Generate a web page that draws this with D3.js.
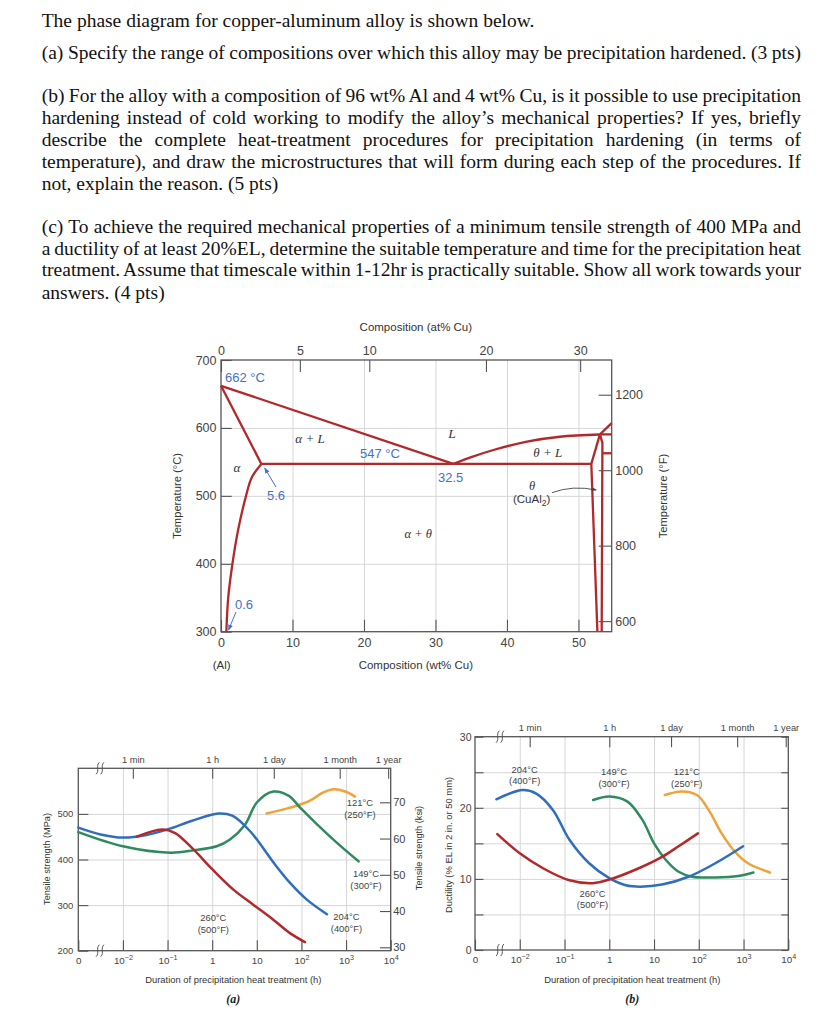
<!DOCTYPE html>
<html><head><meta charset="utf-8">
<script src="https://cdn.jsdelivr.net/npm/d3@7"></script>
<style>body{margin:0;background:#fff}svg{display:block}</style>
</head><body><svg id="c" width="834" height="1024"></svg>
<script>
// ---------------- DATA ----------------
const questionLines = [
  "The phase diagram for copper-aluminum alloy is shown below.",
  "(a) Specify the range of compositions over which this alloy may be precipitation hardened. (3 pts)",
  "(b) For the alloy with a composition of 96 wt% Al and 4 wt% Cu, is it possible to use precipitation",
  "hardening instead of cold working to modify the alloy\u2019s mechanical properties? If yes, briefly",
  "describe the complete heat-treatment procedures for precipitation hardening (in terms of",
  "temperature), and draw the microstructures that will form during each step of the procedures. If",
  "not, explain the reason. (5 pts)",
  "(c) To achieve the required mechanical properties of a minimum tensile strength of 400 MPa and",
  "a ductility of at least 20%EL, determine the suitable temperature and time for the precipitation heat",
  "treatment. Assume that timescale within 1-12hr is practically suitable. Show all work towards your",
  "answers. (4 pts)"
];

// Phase diagram (wt% Cu, °C)
const wtTicks = [0, 10, 20, 30, 40, 50];
const atTicks = [0, 5, 10, 20, 30];
const tempTicks = [300, 400, 500, 600, 700];
const fahrTicks = [600, 800, 1000, 1200];
const liquidusLeft = [[0, 662], [32.5, 547]];
const solidus = [[0, 662], [5.65, 547]];
const solvus = [[5.65, 547], [4.3, 527], [3.5, 500], [2.4, 450], [1.6, 400], [1.0, 349], [0.75, 300]];
const eutecticLine = [[5.65, 547], [51.8, 547]];
const liquidusRight = [[32.5, 547], [35, 557], [38.1, 567.5], [42.8, 579.8], [47.4, 587], [53, 590.3]];
const peritecticLine = [[53, 590.5], [54.65, 590.5]];
const liquidusTheta = [[53, 590.5], [54.65, 607]];
const thetaLeft = [[53, 590.5], [51.8, 547], [52.65, 300]];
const thetaRight = [[53, 590.5], [53.35, 578], [53.25, 300]];
const thetaRightBoundary = [[53.3, 562.7], [54.65, 562.7]];

// Precipitation hardening (hours, value)
const timeTickHours = [0.001, 0.01, 0.1, 1, 10, 100, 1000, 10000];
const timeTickLabels = [["0", ""], ["10", "\u22122"], ["10", "\u22121"], ["1", ""], ["10", ""], ["10", "2"], ["10", "3"], ["10", "4"]];
const periodHours = [0.01667, 1, 24, 720, 8760];
const periodLabels = ["1 min", "1 h", "1 day", "1 month", "1 year"];
const mpaTicks = [200, 300, 400, 500];
const ksiTicks = [30, 40, 50, 60, 70];
const ductTicks = [0, 5, 10, 15, 20, 25, 30];

const tensile260 = [[0.0204, 450], [0.0741, 466], [0.148, 458], [0.38, 422], [0.977, 380], [2.99, 334], [8.3, 301], [23.4, 268], [56.2, 238], [120, 219]];
const tensile204 = [[0.001, 470], [0.00316, 455], [0.01, 448], [0.0316, 453], [0.1, 466], [0.355, 485], [1.38, 501], [2.82, 496], [7.08, 462], [25.1, 390], [56.2, 348], [132, 312], [372, 280]];
const tensile149 = [[0.001, 460], [0.01, 429], [0.115, 415], [0.38, 420], [1.26, 429], [2.51, 444], [5.5, 477], [10, 525], [23.4, 549], [51.3, 540], [93.3, 514], [224, 477], [617, 437], [1905, 396]];
const tensile121 = [[16.6, 501], [39.8, 510], [79.4, 518], [155, 529], [309, 547], [525, 554], [955, 549], [1585, 538]];

const duct260 = [[0.00316, 16.3], [0.01, 13.6], [0.0331, 11.5], [0.129, 9.8], [0.427, 9.4], [1, 9.9], [4.57, 11.5], [15.1, 13.1], [35.5, 14.6], [95.5, 16.4]];
const duct204 = [[0.003, 21.2], [0.0117, 22.5], [0.0234, 22.0], [0.055, 19.7], [0.129, 15.5], [0.355, 12.2], [1, 10.1], [2.34, 9.1], [5.0, 8.9], [15.1, 9.2], [58.9, 10.3], [234, 12.2], [977, 14.6]];
const duct149 = [[0.437, 21.1], [1, 21.6], [2.51, 20.9], [5.5, 18.3], [10, 15.0], [18.2, 12.7], [35.5, 11.0], [70.8, 10.3], [234, 10.2], [759, 10.4], [1660, 10.9]];
const duct121 = [[17.4, 21.8], [41.7, 22.3], [91.2, 21.8], [166, 19.7], [324, 16.4], [646, 13.8], [1259, 12.2], [3890, 10.9]];

// ---------------- STYLE / LAYOUT ----------------
const svg = d3.select("#c");
const SANS = "'Liberation Sans', Arial, sans-serif";
const SERIF = "'Liberation Serif', 'Times New Roman', serif";
const FRAME = "#555";
const GRID = "#d6d6d6";
const RED = "#b2292b", BLUE = "#2f6fba", GREEN = "#2f8a5f", ORANGE = "#f0a33a";
const NOTE = "#4472c4";

// Question text (justified lines get extra word spacing)
const qBase = [26.7, 58.5, 102, 123.5, 146, 168.3, 189.5, 232.7, 254.5, 276.3, 299.3];
const qJustify = [false, true, true, true, true, true, false, true, true, true, false];
const qRight = 801;
svg.append("g").selectAll("text").data(questionLines).join("text")
  .attr("x", 41.7).attr("y", (d, i) => qBase[i])
  .attr("font-family", SERIF).attr("font-size", 19.5).attr("fill", "#111")
  .text(d => d)
  .each(function (d, i) {
    if (!qJustify[i]) return;
    const w = this.getComputedTextLength();
    const n = (d.match(/ /g) || []).length;
    if (n > 0) d3.select(this).attr("word-spacing", (qRight - 41.7 - w) / n);
  });

function styleAxis(g, fs, col) {
  g.select(".domain").remove();
  g.selectAll(".tick line").attr("stroke", FRAME).attr("stroke-width", 1.1);
  g.selectAll(".tick text").attr("font-family", SANS).attr("font-size", fs).attr("fill", col || "#444");
}
function gridAxis(g) {
  g.select(".domain").remove();
  g.selectAll(".tick line").attr("stroke", GRID).attr("stroke-width", 1);
}

// ---------------- PHASE DIAGRAM ----------------
const P = {l: 221, r: 611.7, t: 360, b: 631.7};
const xW = d3.scaleLinear().domain([0, 54.65]).range([P.l, P.r]);
const yT = d3.scaleLinear().domain([300, 700]).range([P.b, P.t]);
const yF = d3.scaleLinear().domain([572, 1292]).range([P.b, P.t]);
const atToWt = a => 100 * a * 63.55 / (a * 63.55 + (100 - a) * 26.98);

const pd = svg.append("g");
pd.append("g").attr("transform", `translate(0,${P.b})`)
  .call(d3.axisBottom(xW).tickValues([10, 20, 30, 40, 50]).tickSize(-(P.b - P.t)).tickFormat("")).call(gridAxis);
pd.append("g").attr("transform", `translate(${P.l},0)`)
  .call(d3.axisLeft(yT).tickValues([400, 500, 600]).tickSize(-(P.r - P.l)).tickFormat("")).call(gridAxis);

pd.append("g").attr("transform", `translate(0,${P.b})`)
  .call(d3.axisBottom(xW).tickValues(wtTicks).tickSizeInner(-12).tickSizeOuter(0).tickPadding(6.5))
  .call(g => styleAxis(g, 12.5));
pd.append("g").attr("transform", `translate(0,${P.t})`)
  .call(d3.axisTop(xW).tickValues(atTicks.map(atToWt)).tickFormat((d, i) => atTicks[i]).tickSizeInner(-12).tickSizeOuter(0).tickPadding(5.5))
  .call(g => styleAxis(g, 12.5));
pd.append("g").attr("transform", `translate(${P.l},0)`)
  .call(d3.axisLeft(yT).tickValues(tempTicks).tickSizeInner(-10.7).tickSizeOuter(0).tickPadding(4.5))
  .call(g => styleAxis(g, 12.5));
pd.append("g").attr("transform", `translate(${P.r},0)`)
  .call(d3.axisRight(yF).tickValues(fahrTicks).tickFormat(d3.format("d")).tickSizeInner(-13).tickSizeOuter(0).tickPadding(3.5))
  .call(g => styleAxis(g, 12.5));
pd.append("rect").attr("x", P.l).attr("y", P.t).attr("width", P.r - P.l).attr("height", P.b - P.t)
  .attr("fill", "none").attr("stroke", FRAME).attr("stroke-width", 1.3);

const pLine = d3.line().x(d => xW(d[0])).y(d => yT(d[1]));
const pCurve = d3.line().x(d => xW(d[0])).y(d => yT(d[1])).curve(d3.curveCatmullRom.alpha(0.5));
[liquidusLeft, solidus, eutecticLine, peritecticLine, liquidusTheta, thetaLeft, thetaRight, thetaRightBoundary].forEach(d =>
  pd.append("path").attr("d", pLine(d)).attr("fill", "none").attr("stroke", RED).attr("stroke-width", 2.3).attr("stroke-linejoin", "round"));
[solvus, liquidusRight].forEach(d =>
  pd.append("path").attr("d", pCurve(d)).attr("fill", "none").attr("stroke", RED).attr("stroke-width", 2.3));

// phase labels
function ptxt(wt, T, txt, opts) {
  const t = pd.append("text").attr("x", xW(wt)).attr("y", yT(T))
    .attr("font-family", opts.serif ? SERIF : SANS).attr("font-size", opts.fs || 12)
    .attr("fill", opts.fill || "#333").attr("text-anchor", opts.anchor || "middle");
  if (opts.italic) t.attr("font-style", "italic");
  t.text(txt);
  return t;
}
ptxt(0.56, 666.9, "662 \u00B0C", {fill: NOTE, fs: 13, anchor: "start"});
ptxt(19.45, 555, "547 \u00B0C", {fill: NOTE, fs: 13, anchor: "start"});
ptxt(30.36, 519.7, "32.5", {fill: NOTE, fs: 13, anchor: "start"});
ptxt(6.44, 494.6, "5.6", {fill: NOTE, fs: 13, anchor: "start"});
ptxt(1.96, 334, "0.6", {fill: NOTE, fs: 13, anchor: "start"});
ptxt(12.45, 577.8, "\u03B1 + L", {serif: true, italic: true, fs: 13});
ptxt(32.3, 585.2, "L", {serif: true, italic: true, fs: 13.5});
ptxt(45.7, 557.2, "\u03B8 + L", {serif: true, italic: true, fs: 13});
ptxt(2.24, 535.1, "\u03B1", {serif: true, italic: true, fs: 13});
ptxt(27.6, 437.9, "\u03B1 + \u03B8", {serif: true, italic: true, fs: 12.5});
ptxt(43.5, 508.6, "\u03B8", {serif: true, italic: true, fs: 12.5});
const cu = ptxt(43.45, 489.5, "", {fs: 11.5});
cu.append("tspan").text("(CuAl");
cu.append("tspan").attr("dy", 3).attr("font-size", 8.5).text("2");
cu.append("tspan").attr("dy", -3).text(")");

const defs = svg.append("defs");
defs.append("marker").attr("id", "ab").attr("viewBox", "0 0 10 10").attr("refX", 9).attr("refY", 5)
  .attr("markerWidth", 6).attr("markerHeight", 6).attr("orient", "auto")
  .append("path").attr("d", "M0,1 L10,5 L0,9 z").attr("fill", NOTE);
defs.append("marker").attr("id", "ag").attr("viewBox", "0 0 10 10").attr("refX", 9).attr("refY", 5)
  .attr("markerWidth", 5).attr("markerHeight", 5).attr("orient", "auto")
  .append("path").attr("d", "M0,1 L10,5 L0,9 z").attr("fill", "#444");
pd.append("line").attr("x1", xW(7.69)).attr("y1", yT(513)).attr("x2", xW(6.11)).attr("y2", yT(541))
  .attr("stroke", NOTE).attr("stroke-width", 1).attr("marker-end", "url(#ab)");
pd.append("line").attr("x1", xW(2.1)).attr("y1", yT(329)).attr("x2", xW(1.05)).attr("y2", yT(302.5))
  .attr("stroke", NOTE).attr("stroke-width", 1).attr("marker-end", "url(#ab)");
pd.append("path").attr("d", `M${xW(46.3)},${yT(504.7)} Q${xW(49.2)},${yT(516)} ${xW(52.5)},${yT(508.6)}`)
  .attr("fill", "none").attr("stroke", "#444").attr("stroke-width", 0.9).attr("marker-end", "url(#ag)");

// titles
pd.append("text").attr("x", (P.l + P.r) / 2 - 0.5).attr("y", 331).attr("text-anchor", "middle")
  .attr("font-family", SANS).attr("font-size", 11.5).attr("fill", "#333").text("Composition (at% Cu)");
pd.append("text").attr("x", (P.l + P.r) / 2 - 0.5).attr("y", 669).attr("text-anchor", "middle")
  .attr("font-family", SANS).attr("font-size", 11.5).attr("fill", "#333").text("Composition (wt% Cu)");
pd.append("text").attr("x", P.l + 0.7).attr("y", 669).attr("text-anchor", "middle")
  .attr("font-family", SANS).attr("font-size", 11.5).attr("fill", "#333").text("(Al)");
pd.append("text").attr("transform", `translate(180.5,496) rotate(-90)`).attr("text-anchor", "middle")
  .attr("font-family", SANS).attr("font-size", 11.2).attr("fill", "#333").text("Temperature (\u00B0C)");
pd.append("text").attr("transform", `translate(667,496) rotate(-90)`).attr("text-anchor", "middle")
  .attr("font-family", SANS).attr("font-size", 11.2).attr("fill", "#333").text("Temperature (\u00B0F)");

// ---------------- TIME CHARTS ----------------
function squiggle(g, x, y) {
  [-2.3, 2.3].forEach(o => g.append("path")
    .attr("d", `M${x + o - 1.6},${y + 6} C${x + o + 2.2},${y + 2} ${x + o - 2.2},${y - 2} ${x + o + 1.6},${y - 6}`)
    .attr("fill", "none").attr("stroke", "#555").attr("stroke-width", 1));
}
function timeAxes(g, F, xS, yS, yGrid) {
  g.append("g").attr("transform", `translate(0,${F.b})`)
    .call(d3.axisBottom(xS).tickValues([0.01, 0.1, 1, 10, 100, 1000]).tickSize(-(F.b - F.t)).tickFormat("")).call(gridAxis);
  g.append("g").attr("transform", `translate(${F.l},0)`)
    .call(d3.axisLeft(yS).tickValues(yGrid).tickSize(-(F.r - F.l)).tickFormat("")).call(gridAxis);
  const bx = g.append("g").attr("transform", `translate(0,${F.b})`)
    .call(d3.axisBottom(xS).tickValues(timeTickHours).tickSizeInner(-10.5).tickSizeOuter(0).tickPadding(6))
    .call(a => styleAxis(a, 9.8));
  bx.selectAll(".tick text").each(function (d, i) {
    const t = d3.select(this).text(null);
    t.append("tspan").text(timeTickLabels[i][0]);
    if (timeTickLabels[i][1]) t.append("tspan").attr("dy", -3.8).attr("font-size", 7.2).text(timeTickLabels[i][1]);
  });
  g.append("g").attr("transform", `translate(0,${F.t})`)
    .call(d3.axisTop(xS).tickValues(periodHours).tickFormat((d, i) => periodLabels[i]).tickSizeInner(-10.5).tickSizeOuter(0).tickPadding(5.6))
    .call(a => styleAxis(a, 9.3));
}
function tLabel(g, x, y, lines) {
  lines.forEach((s, i) => g.append("text").attr("x", x).attr("y", y + i * 11.7).attr("text-anchor", "middle")
    .attr("font-family", SANS).attr("font-size", 9.4).attr("fill", "#444").text(s));
}

// Chart (a)
const A = {l: 78.3, r: 390.7, t: 768.3, b: 950.7};
const xA = d3.scaleLog().domain([0.001, 10000]).range([A.l, A.r]);
const yA = d3.scaleLinear().domain([200, 600]).range([A.b, A.t]);
const yK = d3.scaleLinear().domain([30, 70]).range([947.3, 802.3]);
const ga = svg.append("g");
timeAxes(ga, A, xA, yA, [300, 400, 500]);
ga.append("g").attr("transform", `translate(${A.l},0)`)
  .call(d3.axisLeft(yA).tickValues(mpaTicks).tickSizeInner(-10).tickSizeOuter(0).tickPadding(5))
  .call(a => styleAxis(a, 9.5));
ga.append("g").attr("transform", `translate(${A.r},0)`)
  .call(d3.axisRight(yK).tickValues(ksiTicks).tickSizeInner(-10.7).tickSizeOuter(0).tickPadding(2.5))
  .call(a => styleAxis(a, 11));
ga.append("rect").attr("x", A.l).attr("y", A.t).attr("width", A.r - A.l).attr("height", A.b - A.t)
  .attr("fill", "none").attr("stroke", FRAME).attr("stroke-width", 1.3);
squiggle(ga, 100, A.t); squiggle(ga, 100, A.b);
const lineA = d3.line().x(d => xA(d[0])).y(d => yA(d[1])).curve(d3.curveCatmullRom.alpha(0.5));
[[tensile121, ORANGE], [tensile149, GREEN], [tensile204, BLUE], [tensile260, RED]].forEach(([d, c]) =>
  ga.append("path").attr("d", lineA(d)).attr("fill", "none").attr("stroke", c).attr("stroke-width", 2.5).attr("stroke-linecap", "round"));
tLabel(ga, xA(2040), yA(516.6), ["121\u00B0C", "(250\u00B0F)"]);
tLabel(ga, xA(2800), yA(360.7), ["149\u00B0C", "(300\u00B0F)"]);
tLabel(ga, xA(1020), yA(267.4), ["204\u00B0C", "(400\u00B0F)"]);
tLabel(ga, xA(1.06), yA(265.2), ["260\u00B0C", "(500\u00B0F)"]);
ga.append("text").attr("x", 233.3).attr("y", 982.5).attr("text-anchor", "middle").attr("font-family", SANS)
  .attr("font-size", 9.4).attr("fill", "#333").text("Duration of precipitation heat treatment (h)");
ga.append("text").attr("x", 233.3).attr("y", 1002.5).attr("text-anchor", "middle").attr("font-family", SERIF)
  .attr("font-size", 12).attr("font-style", "italic").attr("font-weight", "bold").attr("fill", "#222").text("(a)");
ga.append("text").attr("transform", "translate(50,859) rotate(-90)").attr("text-anchor", "middle")
  .attr("font-family", SANS).attr("font-size", 9.2).attr("fill", "#333").text("Tensile strength (MPa)");
ga.append("text").attr("transform", "translate(421.5,848) rotate(-90)").attr("text-anchor", "middle")
  .attr("font-family", SANS).attr("font-size", 9.2).attr("fill", "#333").text("Tensile strength (ksi)");

// Chart (b)
const B = {l: 475, r: 788.3, t: 736.7, b: 950};
const xB = d3.scaleLog().domain([0.001, 10000]).range([B.l, B.r]);
const yB = d3.scaleLinear().domain([0, 30]).range([B.b, B.t]);
const gb = svg.append("g");
timeAxes(gb, B, xB, yB, [5, 10, 15, 20, 25]);
gb.append("g").attr("transform", `translate(${B.l},0)`)
  .call(d3.axisLeft(yB).tickValues(ductTicks).tickFormat(d => d % 10 === 0 ? d : "").tickSizeInner(-8.5).tickSizeOuter(0).tickPadding(3.5))
  .call(a => styleAxis(a, 10.5));
gb.append("g").attr("transform", `translate(${B.r},0)`)
  .call(d3.axisRight(yB).tickValues(ductTicks).tickFormat("").tickSizeInner(-7).tickSizeOuter(0))
  .call(a => styleAxis(a, 10.5));
gb.append("rect").attr("x", B.l).attr("y", B.t).attr("width", B.r - B.l).attr("height", B.b - B.t)
  .attr("fill", "none").attr("stroke", FRAME).attr("stroke-width", 1.3);
squiggle(gb, 500, B.t); squiggle(gb, 500, B.b);
const lineB = d3.line().x(d => xB(d[0])).y(d => yB(d[1])).curve(d3.curveCatmullRom.alpha(0.5));
[[duct121, ORANGE], [duct149, GREEN], [duct204, BLUE], [duct260, RED]].forEach(([d, c]) =>
  gb.append("path").attr("d", lineB(d)).attr("fill", "none").attr("stroke", c).attr("stroke-width", 2.5).attr("stroke-linecap", "round"));
tLabel(gb, xB(0.0129), yB(24.96), ["204\u00B0C", "(400\u00B0F)"]);
tLabel(gb, xB(1.28), yB(24.6), ["149\u00B0C", "(300\u00B0F)"]);
tLabel(gb, xB(54), yB(24.6), ["121\u00B0C", "(250\u00B0F)"]);
tLabel(gb, xB(0.423), yB(7.52), ["260\u00B0C", "(500\u00B0F)"]);
gb.append("text").attr("x", 632.3).attr("y", 982.5).attr("text-anchor", "middle").attr("font-family", SANS)
  .attr("font-size", 9.4).attr("fill", "#333").text("Duration of precipitation heat treatment (h)");
gb.append("text").attr("x", 632.3).attr("y", 1002.5).attr("text-anchor", "middle").attr("font-family", SERIF)
  .attr("font-size", 12).attr("font-style", "italic").attr("font-weight", "bold").attr("fill", "#222").text("(b)");
gb.append("text").attr("transform", "translate(451.8,845) rotate(-90)").attr("text-anchor", "middle")
  .attr("font-family", SANS).attr("font-size", 9.4).attr("fill", "#333").text("Ductility (% EL in 2 in. or 50 mm)");
</script></body></html>
